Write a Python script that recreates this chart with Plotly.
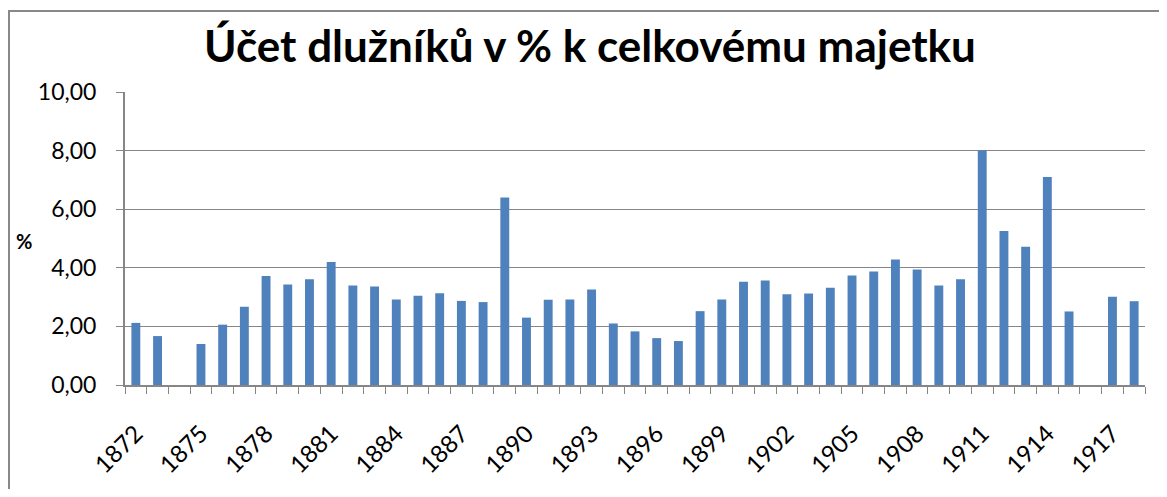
import plotly.graph_objects as go

years = list(range(1872, 1919))
values = [2.12, 1.67, None, 1.40, 2.06, 2.67, 3.72, 3.43, 3.61, 4.20,
          3.40, 3.36, 2.92, 3.05, 3.13, 2.87, 2.83, 6.40, 2.30, 2.91,
          2.92, 3.26, 2.10, 1.83, 1.60, 1.50, 2.52, 2.92, 3.52, 3.57,
          3.10, 3.12, 3.32, 3.74, 3.87, 4.28, 3.94, 3.40, 3.61, 8.00,
          5.26, 4.72, 7.10, 2.51, None, 3.01, 2.86]
label_years = list(range(1872, 1919, 3))
title_text = "Účet dlužníků v % k celkovému majetku"
y_ticks = [0, 2, 4, 6, 8, 10]

# page body has an 8px margin; work in page pixels and convert
OFF = 8
W, H = 1167 - 2 * OFF, 497 - 2 * OFF
PL, PR, PT, PB = 125, 1145, 92, 385   # plot area in page pixels
L = PL - OFF
T = PT - OFF
pw, ph = PR - PL, PB - PT
R = W - L - pw
B = H - T - ph

def px_x(x):
    return (x - OFF - L) / pw

def px_y(y):
    return (T + ph - (y - OFF)) / ph

fig = go.Figure()
fig.add_trace(go.Bar(x=years, y=values, width=0.41,
                     marker=dict(color="#4F81BD", line=dict(width=0))))

font = "Lato, Calibri, sans-serif"
fig.update_layout(
    width=W, height=H,
    margin=dict(l=L, r=R, t=T, b=B, pad=0),
    paper_bgcolor="white", plot_bgcolor="white",
    separators=", ",
    showlegend=False,
    title=dict(text="<b>%s</b>" % title_text, x=(590 - OFF) / W, xanchor="center",
               y=1 - (47 - OFF) / H, yanchor="middle",
               font=dict(family=font, size=44, color="black")),
    xaxis=dict(range=[1871.5, 1918.5], tickmode="array", tickvals=label_years,
               ticktext=[str(y) for y in label_years], tickangle=-45,
               ticks="outside", ticklen=23, tickcolor="rgba(0,0,0,0)",
               showgrid=False, zeroline=False,
               showline=True, linecolor="#868686", linewidth=2,
               tickfont=dict(family=font, size=24, color="black"),
               minor=dict(tick0=1871.5, dtick=1, ticks="outside", ticklen=7,
                          tickcolor="#868686", tickwidth=1, showgrid=False)),
    yaxis=dict(range=[0, 10], tickvals=y_ticks, tickformat=".2f",
               ticks="outside", ticklen=7, tickcolor="#868686",
               ticklabelstandoff=15,
               showgrid=True, gridcolor="#868686", gridwidth=1,
               zeroline=False, showline=True, linecolor="#868686", linewidth=2,
               tickfont=dict(family=font, size=23, color="black")),
    shapes=[
        dict(type="line", xref="paper", yref="paper", layer="above",
             x0=px_x(9), x1=px_x(1159), y0=px_y(11), y1=px_y(11),
             line=dict(color="#888888", width=2)),
        dict(type="line", xref="paper", yref="paper", layer="above",
             x0=px_x(9), x1=px_x(9), y0=px_y(10), y1=px_y(489),
             line=dict(color="#888888", width=2)),
    ],
    annotations=[
        dict(text="<b>%</b>", xref="paper", yref="paper",
             x=px_x(24), y=px_y(241), xanchor="center", yanchor="middle",
             showarrow=False, font=dict(family=font, size=20, color="black")),
    ],
)

fig.write_html("out.html")
